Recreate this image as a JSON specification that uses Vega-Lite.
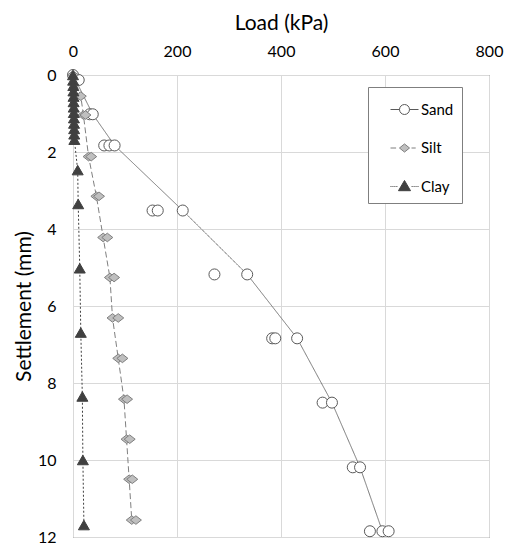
{
  "$schema": "https://vega.github.io/schema/vega-lite/v6.json",
  "autosize": "none",
  "width": 416,
  "height": 462,
  "padding": {"left": 73, "top": 75, "right": 25, "bottom": 6},
  "background": "white",
  "config": {
    "font": "Lato",
    "view": {"stroke": "#595959", "strokeWidth": 1},
    "axis": {"grid": true, "gridColor": "#d9d9d9", "gridWidth": 1, "ticks": false, "tickSize": 0, "domain": false, "labelFont": "Lato", "labelFontSize": 16, "labelColor": "#000000", "titleFont": "Lato", "titleFontSize": 21, "titleFontWeight": "normal", "titleColor": "#000000"},
    "legend": {"title": null, "orient": "none", "legendX": 295, "legendY": 12, "padding": 8, "strokeColor": "#7f7f7f", "fillColor": "#ffffff", "symbolSize": 784, "symbolOffset": 14, "labelOffset": 2, "rowPadding": 15.5, "symbolStrokeWidth": 1, "symbolOpacity": 1, "labelFont": "Lato", "labelFontSize": 15, "labelColor": "#000000"}
  },
  "data": {"values": [
    {"soil": "Sand", "load": 0, "settlement": 0, "curve": true},
    {"soil": "Sand", "load": 11, "settlement": 0.13, "curve": false},
    {"soil": "Sand", "load": 32, "settlement": 1.02, "curve": false},
    {"soil": "Sand", "load": 38, "settlement": 1.02, "curve": true},
    {"soil": "Sand", "load": 60, "settlement": 1.83, "curve": false},
    {"soil": "Sand", "load": 70, "settlement": 1.83, "curve": false},
    {"soil": "Sand", "load": 80, "settlement": 1.83, "curve": true},
    {"soil": "Sand", "load": 153, "settlement": 3.52, "curve": false},
    {"soil": "Sand", "load": 163, "settlement": 3.52, "curve": false},
    {"soil": "Sand", "load": 211, "settlement": 3.52, "curve": true},
    {"soil": "Sand", "load": 272, "settlement": 5.18, "curve": false},
    {"soil": "Sand", "load": 335, "settlement": 5.18, "curve": true},
    {"soil": "Sand", "load": 383, "settlement": 6.84, "curve": false},
    {"soil": "Sand", "load": 389, "settlement": 6.84, "curve": false},
    {"soil": "Sand", "load": 431, "settlement": 6.84, "curve": true},
    {"soil": "Sand", "load": 480, "settlement": 8.51, "curve": false},
    {"soil": "Sand", "load": 498, "settlement": 8.51, "curve": true},
    {"soil": "Sand", "load": 538, "settlement": 10.19, "curve": false},
    {"soil": "Sand", "load": 552, "settlement": 10.19, "curve": true},
    {"soil": "Sand", "load": 571, "settlement": 11.85, "curve": false},
    {"soil": "Sand", "load": 595, "settlement": 11.85, "curve": true},
    {"soil": "Sand", "load": 607, "settlement": 11.85, "curve": false},
    {"soil": "Silt", "load": 0, "settlement": 0, "curve": true},
    {"soil": "Silt", "load": 15, "settlement": 0.55, "curve": true},
    {"soil": "Silt", "load": 20, "settlement": 1.04, "curve": true},
    {"soil": "Silt", "load": 24, "settlement": 1.04, "curve": false},
    {"soil": "Silt", "load": 30, "settlement": 2.12, "curve": true},
    {"soil": "Silt", "load": 35, "settlement": 2.12, "curve": false},
    {"soil": "Silt", "load": 45, "settlement": 3.15, "curve": true},
    {"soil": "Silt", "load": 50, "settlement": 3.15, "curve": false},
    {"soil": "Silt", "load": 58, "settlement": 4.22, "curve": true},
    {"soil": "Silt", "load": 66, "settlement": 4.22, "curve": false},
    {"soil": "Silt", "load": 71, "settlement": 5.26, "curve": true},
    {"soil": "Silt", "load": 79, "settlement": 5.26, "curve": false},
    {"soil": "Silt", "load": 76, "settlement": 6.31, "curve": true},
    {"soil": "Silt", "load": 87, "settlement": 6.31, "curve": false},
    {"soil": "Silt", "load": 87, "settlement": 7.36, "curve": true},
    {"soil": "Silt", "load": 95, "settlement": 7.36, "curve": false},
    {"soil": "Silt", "load": 98, "settlement": 8.42, "curve": true},
    {"soil": "Silt", "load": 104, "settlement": 8.42, "curve": false},
    {"soil": "Silt", "load": 103, "settlement": 9.46, "curve": true},
    {"soil": "Silt", "load": 109, "settlement": 9.46, "curve": false},
    {"soil": "Silt", "load": 108, "settlement": 10.5, "curve": true},
    {"soil": "Silt", "load": 114, "settlement": 10.5, "curve": false},
    {"soil": "Silt", "load": 113, "settlement": 11.56, "curve": true},
    {"soil": "Silt", "load": 121, "settlement": 11.56, "curve": false},
    {"soil": "Clay", "load": 0, "settlement": 0, "curve": true},
    {"soil": "Clay", "load": 0.3, "settlement": 0.14, "curve": true},
    {"soil": "Clay", "load": 0.6, "settlement": 0.28, "curve": true},
    {"soil": "Clay", "load": 0.8, "settlement": 0.42, "curve": true},
    {"soil": "Clay", "load": 1, "settlement": 0.56, "curve": true},
    {"soil": "Clay", "load": 1.2, "settlement": 0.7, "curve": true},
    {"soil": "Clay", "load": 1.4, "settlement": 0.84, "curve": true},
    {"soil": "Clay", "load": 1.6, "settlement": 0.98, "curve": true},
    {"soil": "Clay", "load": 1.8, "settlement": 1.12, "curve": true},
    {"soil": "Clay", "load": 2, "settlement": 1.26, "curve": true},
    {"soil": "Clay", "load": 2.2, "settlement": 1.4, "curve": true},
    {"soil": "Clay", "load": 2.4, "settlement": 1.54, "curve": true},
    {"soil": "Clay", "load": 2.6, "settlement": 1.68, "curve": true},
    {"soil": "Clay", "load": 9, "settlement": 2.47, "curve": true},
    {"soil": "Clay", "load": 10, "settlement": 3.35, "curve": true},
    {"soil": "Clay", "load": 13, "settlement": 5.02, "curve": true},
    {"soil": "Clay", "load": 15, "settlement": 6.69, "curve": true},
    {"soil": "Clay", "load": 18, "settlement": 8.35, "curve": true},
    {"soil": "Clay", "load": 19, "settlement": 10.0, "curve": true},
    {"soil": "Clay", "load": 21, "settlement": 11.69, "curve": true}
  ]},
  "encoding": {
    "x": {"field": "load", "type": "quantitative", "scale": {"domain": [0, 800], "nice": false},
          "axis": {"orient": "top", "title": "Load (kPa)", "values": [0, 200, 400, 600, 800], "labelFlush": false, "labelPadding": 16, "titlePadding": 10}},
    "y": {"field": "settlement", "type": "quantitative", "scale": {"domain": [0, 12], "reverse": true, "nice": false},
          "axis": {"title": "Settlement (mm)", "values": [0, 2, 4, 6, 8, 10, 12], "labelPadding": 17, "titlePadding": 3}}
  },
  "layer": [
    {
      "transform": [{"filter": "datum.curve"}],
      "mark": {"type": "line", "strokeWidth": 1},
      "encoding": {
        "detail": {"field": "soil"},
        "order": {"field": "settlement", "type": "quantitative"},
        "stroke": {"condition": [{"test": "datum.soil === 'Sand'", "value": "#767676"}, {"test": "datum.soil === 'Silt'", "value": "#7f7f7f"}], "value": "#404040"},
        "strokeDash": {"condition": [{"test": "datum.soil === 'Sand'", "value": [1, 0]}, {"test": "datum.soil === 'Silt'", "value": [6, 3]}], "value": [2, 2]}
      }
    },
    {
      "mark": {"type": "point", "filled": true, "size": 121, "strokeWidth": 1, "opacity": 1},
      "encoding": {
        "fill": {"condition": [{"test": "datum.soil === 'Sand'", "value": "#ffffff"}, {"test": "datum.soil === 'Silt'", "value": "#bfbfbf"}], "value": "#404040"},
        "stroke": {"condition": [{"test": "datum.soil === 'Sand'", "value": "#595959"}, {"test": "datum.soil === 'Silt'", "value": "#7f7f7f"}], "value": "#404040"},
        "shape": {"condition": [{"test": "datum.soil === 'Sand'", "value": "circle"}, {"test": "datum.soil === 'Silt'", "value": "M-1,0L0,-0.78L1,0L0,0.78Z"}], "value": "triangle-up"}
      }
    },
    {
      "transform": [{"filter": "false"}],
      "mark": {"type": "point", "filled": true, "strokeWidth": 1, "opacity": 1},
      "encoding": {
        "fill": {"field": "soil", "type": "nominal", "scale": {"domain": ["Sand", "Silt", "Clay"], "range": ["#ffffff", "#bfbfbf", "#404040"]},
          "legend": {"labelExpr": "datum.label + '                            '"}},
        "stroke": {"field": "soil", "type": "nominal", "scale": {"domain": ["Sand", "Silt", "Clay"], "range": ["#595959", "#7f7f7f", "#404040"]},
          "legend": {"labelExpr": "datum.label + '                            '"}},
        "shape": {"field": "soil", "type": "nominal",
          "scale": {"domain": ["Sand", "Silt", "Clay"], "range": [
            "M-1,0H-0.357M0.357,0H1M-0.357,0A0.357,0.357,0,1,1,0.357,0A0.357,0.357,0,1,1,-0.357,0Z",
            "M-1,0H-0.6M-0.36,0L0,-0.29L0.36,0L0,0.29ZM0.5,0H0.8",
            "M-1,0H-0.93M-0.86,0H-0.79M-0.72,0H-0.65M-0.58,0H-0.51M-0.43,0.3L0,-0.43L0.43,0.3ZM0.51,0H0.58M0.65,0H0.72M0.79,0H0.86M0.93,0H1"]},
          "legend": {"labelExpr": "datum.label + '                            '"}}
      }
    }
  ]
}
